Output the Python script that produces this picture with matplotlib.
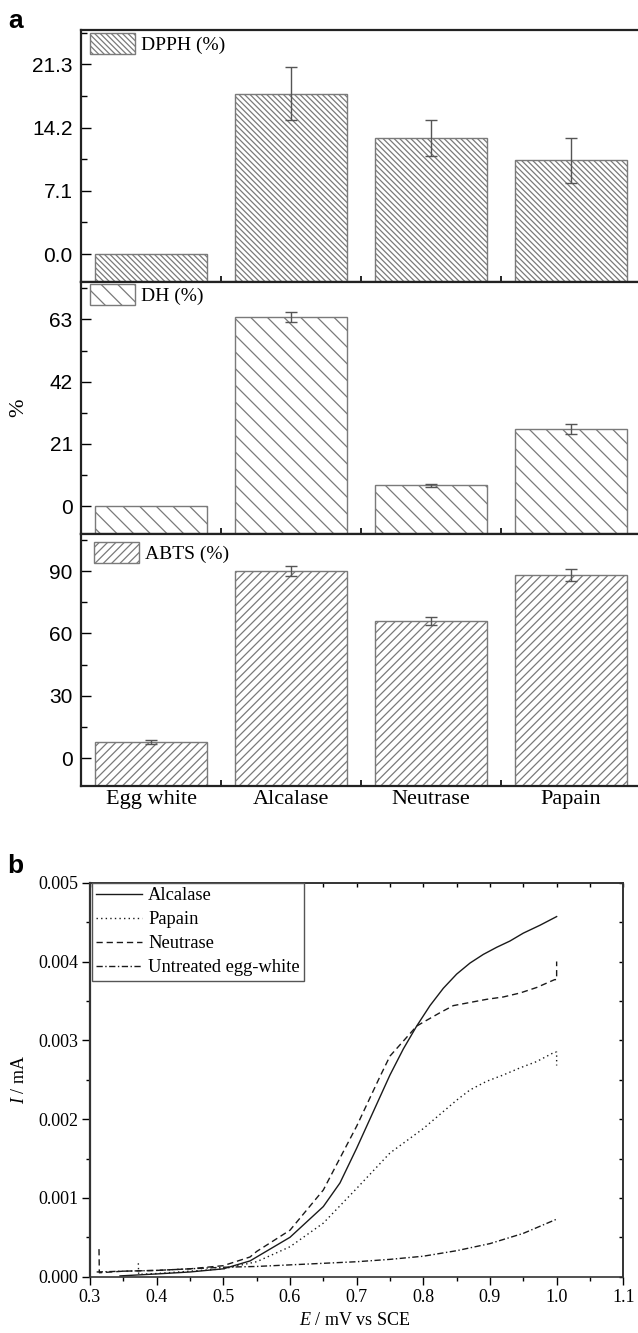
import matplotlib
matplotlib.use('Agg')
import matplotlib.pyplot as plt
from matplotlib.patches import Patch
from matplotlib.ticker import MultipleLocator, FixedLocator
import numpy as np

# ---------------- data: panel a ----------------
categories = ['Egg white', 'Alcalase', 'Neutrase', 'Papain']
dpph = [0.0, 18.0, 13.0, 10.5]
dpph_err = [0.0, 3.0, 2.0, 2.5]
dh = [0.0, 63.8, 7.0, 26.0]
dh_err = [0.0, 1.6, 0.5, 1.6]
abts = [7.7, 90.0, 66.0, 88.0]
abts_err = [1.0, 2.4, 1.8, 2.8]

dpph_ticks = [0.0, 7.1, 14.2, 21.3]
dh_ticks = [0, 21, 42, 63]
abts_ticks = [0, 30, 60, 90]

# ---------------- data: panel b ----------------
alc_E = [0.345, 0.40, 0.45, 0.50, 0.54, 0.55, 0.60, 0.65, 0.675, 0.70, 0.75,
         0.77, 0.79, 0.81, 0.83, 0.85, 0.87, 0.89, 0.91, 0.93, 0.95, 0.975, 1.0]
alc_I = [0.00001, 0.000035, 0.00006, 0.0001, 0.0002, 0.00025, 0.0005, 0.00089,
         0.00119, 0.00163, 0.00256, 0.00289, 0.00318, 0.00344, 0.00366, 0.00384,
         0.00398, 0.00409, 0.00418, 0.00426, 0.00436, 0.00446, 0.00457]

pap_E = [0.3725, 0.373, 0.40, 0.45, 0.50, 0.55, 0.60, 0.65, 0.70, 0.75, 0.80,
         0.85, 0.87, 0.895, 0.92, 0.945, 0.97, 0.997, 1.0, 1.0]
pap_I = [0.00017, 0.00003, 0.00004, 0.00007, 0.0001, 0.00019, 0.00038, 0.00068,
         0.00112, 0.00157, 0.00188, 0.00224, 0.00237, 0.00248, 0.00256, 0.00265,
         0.00273, 0.00285, 0.00285, 0.00268]

neu_E = [0.3135, 0.314, 0.35, 0.40, 0.45, 0.50, 0.54, 0.55, 0.60, 0.65, 0.70,
         0.735, 0.75, 0.79, 0.80, 0.825, 0.845, 0.87, 0.895, 0.92, 0.945, 0.97,
         0.997, 1.0, 1.0]
neu_I = [0.00035, 0.00005, 0.00007, 0.00008, 0.0001, 0.00014, 0.00025, 0.00032,
         0.00059, 0.0011, 0.00191, 0.00254, 0.0028, 0.00318, 0.00323, 0.00335,
         0.00344, 0.00348, 0.00352, 0.00355, 0.0036, 0.00367, 0.00377, 0.00377,
         0.0040]

egg_E = [0.31, 0.35, 0.40, 0.45, 0.50, 0.55, 0.60, 0.65, 0.70, 0.75, 0.80,
         0.85, 0.90, 0.95, 1.0]
egg_I = [0.00006, 0.00007, 0.00008, 0.0001, 0.00012, 0.00013, 0.00015, 0.00017,
         0.00019, 0.00022, 0.00026, 0.00033, 0.00042, 0.00055, 0.00073]

b_xticks = [0.3, 0.4, 0.5, 0.6, 0.7, 0.8, 0.9, 1.0, 1.1]
b_yticks = [0.0, 0.001, 0.002, 0.003, 0.004, 0.005]

# ---------------- style ----------------
SERIF = 'Liberation Serif'
SANS = 'Liberation Sans'
plt.rcParams['font.family'] = [SERIF, 'DejaVu Serif']
plt.rcParams['mathtext.fontset'] = 'custom'
plt.rcParams['mathtext.rm'] = SERIF
plt.rcParams['mathtext.it'] = SERIF + ':italic'
plt.rcParams['hatch.linewidth'] = 0.9

W, H = 638, 1333
fig = plt.figure(figsize=(W / 100, H / 100), dpi=100)


def px_axes(l, t, r, b):
    return fig.add_axes([l / W, 1 - b / H, (r - l) / W, (b - t) / H])


GRAY = '#7a7a7a'
ERR = '#555555'

panels = [
    (px_axes(81, 30, 641, 282), dpph, dpph_err, (-3.14, 25.15), dpph_ticks,
     ['0.0', '7.1', '14.2', '21.3'], 3.55, '\\' * 6, 'DPPH (%)', (90, 33)),
    (px_axes(81, 282, 641, 534), dh, dh_err, (-9.37, 75.6), dh_ticks,
     ['0', '21', '42', '63'], 10.5, '\\' * 2, 'DH (%)', (90, 284)),
    (px_axes(81, 534, 641, 786), abts, abts_err, (-13.4, 107.8), abts_ticks,
     ['0', '30', '60', '90'], 15, '/' * 4, 'ABTS (%)', (94, 542)),
]

x = np.arange(len(categories))
for i, (ax, vals, errs, ylim, ticks, tlabels, minor, hatch, lab, lpos) in enumerate(panels):
    vals = np.array(vals, dtype=float)
    errs = np.array(errs, dtype=float)
    ylo = ylim[0]
    ax.bar(x, vals - ylo, bottom=ylo, width=0.8, color='white',
           edgecolor=GRAY, hatch=hatch, linewidth=1.0, zorder=2)
    m = errs > 0
    ax.errorbar(x[m], vals[m], yerr=errs[m], fmt='none', ecolor=ERR,
                elinewidth=1.0, capsize=4, capthick=1.0, zorder=3)
    ax.set_xlim(-0.5, 3.5)
    ax.set_ylim(*ylim)
    ax.set_yticks(ticks)
    ax.set_yticklabels(tlabels, fontfamily=SANS, fontsize=15)
    ax.yaxis.set_minor_locator(MultipleLocator(minor))
    ax.set_xticks(x)
    ax.xaxis.set_minor_locator(FixedLocator([0.5, 1.5, 2.5]))
    ax.tick_params(axis='y', which='major', direction='in', length=7.5, width=1.0, pad=6)
    ax.tick_params(axis='y', which='minor', direction='in', length=4.5, width=1.0)
    ax.tick_params(axis='x', which='major', direction='in', length=8, width=1.2, pad=3)
    ax.tick_params(axis='x', which='minor', direction='in', length=4.5, width=1.2)
    if i < 2:
        ax.tick_params(axis='x', labelbottom=False)
    else:
        ax.set_xticklabels(categories, fontfamily=SERIF, fontsize=16)
    for s in ['left', 'bottom', 'top']:
        ax.spines[s].set_linewidth(1.6)
        ax.spines[s].set_color('#222222')
    ax.spines['right'].set_visible(False)
    handle = Patch(facecolor='white', edgecolor=GRAY, hatch=hatch, linewidth=1.0)
    bx = lpos[0] / W
    by = 1 - lpos[1] / H
    ax.legend([handle], [lab], loc='upper left', bbox_to_anchor=(bx, by),
              bbox_transform=fig.transFigure, frameon=False, borderpad=0,
              borderaxespad=0, handlelength=2.3, handleheight=1.3,
              handletextpad=0.3, prop={'family': SERIF, 'size': 14})

# y label of panel a
panels[1][0].set_ylabel('%', fontfamily=SERIF, fontsize=16, ha='center', va='center')
panels[1][0].yaxis.set_label_coords((19 - 81) / 560, 0.5)

fig.text(8 / W, 1 - 28 / H, 'a', fontfamily=SANS, fontweight='bold',
         fontsize=19, va='baseline', ha='left')

# ---------------- panel b ----------------
axb = px_axes(90, 882.7, 623.3, 1276.7)
LC = '#1a1a1a'
axb.plot(alc_E, alc_I, color=LC, lw=1.0, ls='-', label='Alcalase')
axb.plot(pap_E, pap_I, color=LC, lw=1.0, ls=(0, (1, 2.3)), label='Papain')
axb.plot(neu_E, neu_I, color=LC, lw=1.0, ls=(0, (4.5, 2.8)), label='Neutrase')
axb.plot(egg_E, egg_I, color=LC, lw=1.0, ls=(0, (4.5, 1.8, 1, 1.8)),
         label='Untreated egg-white')
axb.set_xlim(0.3, 1.1)
axb.set_ylim(0, 0.005)
axb.set_xticks(b_xticks)
axb.set_xticklabels(['%.1f' % v for v in b_xticks], fontsize=13)
axb.set_yticks(b_yticks)
axb.set_yticklabels(['%.3f' % v for v in b_yticks], fontsize=13)
axb.xaxis.set_minor_locator(MultipleLocator(0.05))
axb.yaxis.set_minor_locator(MultipleLocator(0.0005))
axb.tick_params(which='major', direction='out', length=5.5, width=1.0, pad=3)
axb.tick_params(which='minor', direction='out', length=3, width=1.0)
for s in axb.spines.values():
    s.set_linewidth(1.2)
    s.set_color('#333333')
axb.spines['left'].set_linewidth(1.6)

secx = axb.secondary_xaxis('top')
secx.set_xticks(b_xticks)
secx.xaxis.set_minor_locator(MultipleLocator(0.05))
secx.tick_params(which='both', direction='in', length=3, width=1.0, labeltop=False)
secx.spines['top'].set_linewidth(1.2)
secx.spines['top'].set_color('#333333')
secy = axb.secondary_yaxis('right')
secy.set_yticks(b_yticks)
secy.yaxis.set_minor_locator(MultipleLocator(0.0005))
secy.tick_params(which='both', direction='in', length=3, width=1.0, labelright=False)
secy.spines['right'].set_linewidth(1.2)
secy.spines['right'].set_color('#333333')

axb.set_xlabel('$E$ / mV vs SCE', fontsize=13)
axb.xaxis.set_label_coords(0.497, -0.089)
axb.set_ylabel('$I$ / mA', fontsize=13, ha='center', va='center')
axb.yaxis.set_label_coords((20 - 90) / 533.3, 0.5)

leg = axb.legend(loc='upper left', bbox_to_anchor=(0.003, 1.0), borderaxespad=0,
                 frameon=True, fancybox=False, framealpha=1, edgecolor='#555555',
                 handlelength=2.5, handletextpad=0.3, labelspacing=0.38,
                 borderpad=0.25, prop={'family': SERIF, 'size': 13.3})
leg.get_frame().set_linewidth(1.0)

fig.text(7 / W, 1 - 873 / H, 'b', fontfamily=SANS, fontweight='bold',
         fontsize=19, va='baseline', ha='left')

fig.savefig('out.png', dpi=100)
